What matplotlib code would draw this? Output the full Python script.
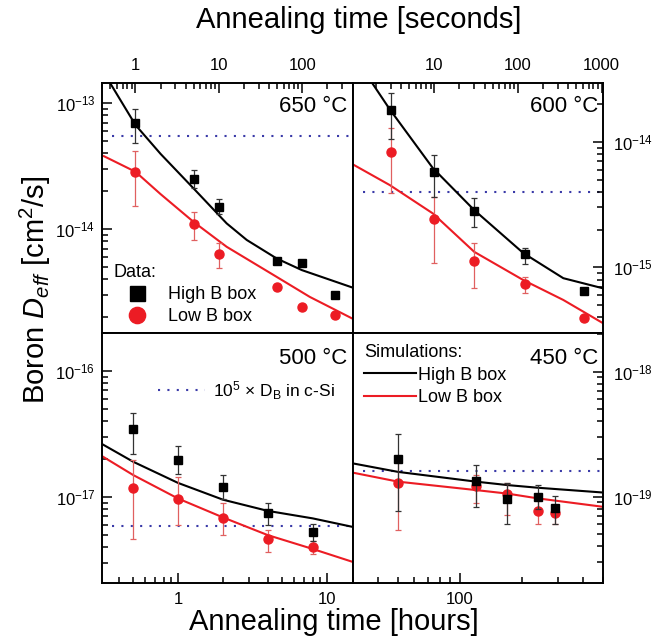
import numpy as np
import matplotlib
matplotlib.use("Agg")
import matplotlib.pyplot as plt
from matplotlib.ticker import LogLocator, NullFormatter, FuncFormatter

plt.rcParams["font.family"] = ["Liberation Sans", "DejaVu Sans"]
plt.rcParams["mathtext.fontset"] = "custom"
plt.rcParams["mathtext.rm"] = "Liberation Sans"
plt.rcParams["mathtext.it"] = "Liberation Sans:italic"
plt.rcParams["mathtext.bf"] = "Liberation Sans:bold"

# ---------------------------------------------------------
# Data
# ---------------------------------------------------------
# 650 C (seconds)
t650 = [1, 5, 10, 50, 100, 250]
high650 = [7.0e-14, 2.52e-14, 1.5e-14, 5.6e-15, 5.35e-15, 3.0e-15]
high650_lo = [4.8e-14, 2.1e-14, 1.33e-14, 5.4e-15, 5.35e-15, 3.0e-15]
high650_hi = [8.95e-14, 2.95e-14, 1.72e-14, 5.8e-15, 5.35e-15, 3.0e-15]
low650 = [2.85e-14, 1.09e-14, 6.3e-15, 3.5e-15, 2.4e-15, 2.07e-15]
low650_lo = [1.52e-14, 8.2e-15, 4.9e-15, 3.3e-15, 2.4e-15, 2.07e-15]
low650_hi = [4.2e-14, 1.36e-14, 7.8e-15, 3.7e-15, 2.4e-15, 2.07e-15]
sim650_t_high = [0.5, 1.0, 2.0, 4.98, 12.4, 21.6, 49.3, 98.9, 400]
sim650_high = [1.43e-13, 6.7e-14, 3.95e-14, 2.1e-14, 1.11e-14, 8.2e-15, 5.85e-15, 4.73e-15, 3.44e-15]
sim650_t_low = [0.418, 1.0, 1.99, 4.98, 12.4, 49.3, 123, 400]
sim650_low = [3.79e-14, 2.85e-14, 1.9e-14, 1.14e-14, 7.24e-15, 4.18e-15, 2.9e-15, 1.95e-15]

# 600 C (seconds)
t600 = [3, 10, 30, 120, 620]
high600 = [1.81e-14, 5.77e-15, 2.82e-15, 1.28e-15, 6.5e-16]
high600_lo = [1.06e-14, 3.65e-15, 2.08e-15, 1.07e-15, 6.5e-16]
high600_hi = [2.45e-14, 7.8e-15, 3.55e-15, 1.43e-15, 6.5e-16]
low600 = [8.3e-15, 2.43e-15, 1.13e-15, 7.36e-16, 3.93e-16]
low600_lo = [3.9e-15, 1.09e-15, 6.8e-16, 6.2e-16, 3.93e-16]
low600_hi = [1.28e-14, 3.65e-15, 1.57e-15, 8.4e-16, 3.93e-16]
sim600_t_high = [1.77, 2.94, 9.6, 30, 116, 349, 1050]
sim600_high = [3.0e-14, 1.81e-14, 6.18e-15, 2.86e-15, 1.3e-15, 8.2e-16, 6.8e-16]
sim600_t_low = [1.05, 2.94, 9.6, 30, 116, 349, 1050]
sim600_low = [6.64e-15, 4.52e-15, 2.69e-15, 1.33e-15, 7.92e-16, 5.5e-16, 3.58e-16]

# 500 C (hours)
t500 = [0.5, 1, 2, 4, 8]
high500 = [3.43e-17, 1.98e-17, 1.19e-17, 7.46e-18, 5.27e-18]
high500_lo = [2.18e-17, 1.51e-17, 9.55e-18, 6.0e-18, 4.5e-18]
high500_hi = [4.6e-17, 2.55e-17, 1.48e-17, 9.0e-18, 6.1e-18]
low500 = [1.18e-17, 9.7e-18, 6.8e-18, 4.64e-18, 3.98e-18]
low500_lo = [4.6e-18, 6.0e-18, 4.97e-18, 3.65e-18, 3.5e-18]
low500_hi = [1.95e-17, 1.44e-17, 9.0e-18, 5.5e-18, 4.5e-18]
sim500_t = [0.31, 0.5, 1, 2, 4, 8, 14.8]
sim500_high = [2.62e-17, 1.9e-17, 1.29e-17, 9.5e-18, 7.74e-18, 6.75e-18, 5.78e-18]
sim500_low = [2.1e-17, 1.49e-17, 9.7e-18, 6.87e-18, 4.97e-18, 3.86e-18, 3.05e-18]

# 450 C (hours)
t450 = [50, 120, 170, 240, 290]
high450 = [1.99e-19, 1.34e-19, 9.6e-20, 9.9e-20, 8.2e-20]
high450_lo = [7.7e-20, 8.3e-20, 6.06e-20, 7.97e-20, 6.06e-20]
high450_hi = [3.16e-19, 1.8e-19, 1.28e-19, 1.23e-19, 1.02e-19]
low450 = [1.28e-19, 1.22e-19, 1.05e-19, 7.7e-20, 7.36e-20]
low450_lo = [5.37e-20, 8.9e-20, 7.1e-20, 6.1e-20, 6.06e-20]
low450_hi = [2.03e-19, 1.49e-19, 1.28e-19, 9.4e-20, 8.6e-20]
sim450_t = [30, 50, 120, 170, 240, 500]
sim450_high = [1.85e-19, 1.58e-19, 1.32e-19, 1.24e-19, 1.18e-19, 1.08e-19]
sim450_low = [1.56e-19, 1.32e-19, 1.13e-19, 1.06e-19, 9.7e-20, 8.3e-20]

# 10^5 x D_B in c-Si
db_level = [5.47e-14, 4.0e-15, 5.9e-18, 1.61e-19]

panel_labels = ["650 °C", "600 °C", "500 °C", "450 °C"]

RED = "#ec1c24"
RED_ERR = "#e06060"
BLUE = "#3a3aa8"

# ---------------------------------------------------------
# Layout (four panels sharing edges)
# ---------------------------------------------------------
W, H = 664, 636
fig = plt.figure(figsize=(W / 100, H / 100), dpi=100)
xl, xm, xr = 102.3 / W, 352.5 / W, 603.3 / W
yt, ym, yb = 1 - 82.7 / H, 1 - 333.0 / H, 1 - 583.3 / H

ax_tl = fig.add_axes([xl, ym, xm - xl, yt - ym])
ax_tr = fig.add_axes([xm, ym, xr - xm, yt - ym])
ax_bl = fig.add_axes([xl, yb, xm - xl, ym - yb])
ax_br = fig.add_axes([xm, yb, xr - xm, ym - yb])

xlims = [(0.4, 400), (1.05, 1050), (0.31, 14.8), (30, 500)]
ylims = [(1.5e-15, 1.45e-13), (3.0e-16, 2.96e-14), (2.06e-18, 2.0e-16), (2.03e-20, 2.04e-18)]


def draw_panel(ax, t, hi, hi_lo, hi_hi, lo, lo_lo, lo_hi):
    hi = np.array(hi)
    lo = np.array(lo)
    e1 = ax.errorbar(t, hi, yerr=[hi - np.array(hi_lo), np.array(hi_hi) - hi],
                     fmt="s", color="black", ecolor="#333333", elinewidth=0.9,
                     capsize=2, capthick=0.9, ms=6, zorder=4)
    e2 = ax.errorbar(t, lo, yerr=[lo - np.array(lo_lo), np.array(lo_hi) - lo],
                     fmt="o", color=RED, ecolor=RED_ERR, elinewidth=0.9,
                     capsize=2, capthick=0.9, ms=6.5, zorder=3)
    return e1, e2


eh, el = draw_panel(ax_tl, t650, high650, high650_lo, high650_hi, low650, low650_lo, low650_hi)
ax_tl.plot(sim650_t_high, sim650_high, color="black", lw=1.5, zorder=2)
ax_tl.plot(sim650_t_low, sim650_low, color=RED, lw=1.5, zorder=2)

draw_panel(ax_tr, t600, high600, high600_lo, high600_hi, low600, low600_lo, low600_hi)
ax_tr.plot(sim600_t_high, sim600_high, color="black", lw=1.5, zorder=2)
ax_tr.plot(sim600_t_low, sim600_low, color=RED, lw=1.5, zorder=2)

draw_panel(ax_bl, t500, high500, high500_lo, high500_hi, low500, low500_lo, low500_hi)
ax_bl.plot(sim500_t, sim500_high, color="black", lw=1.5, zorder=2)
ax_bl.plot(sim500_t, sim500_low, color=RED, lw=1.5, zorder=2)

draw_panel(ax_br, t450, high450, high450_lo, high450_hi, low450, low450_lo, low450_hi)
sh, = ax_br.plot(sim450_t, sim450_high, color="black", lw=1.5, zorder=2)
sl, = ax_br.plot(sim450_t, sim450_low, color=RED, lw=1.5, zorder=2)

axes = [ax_tl, ax_tr, ax_bl, ax_br]
dotted = []
for ax, lvl in zip(axes, db_level):
    d = ax.axhline(lvl, xmin=0.04, xmax=1, color=BLUE, lw=1.5,
                   ls=(0, (1, 3.5)), zorder=1)
    dotted.append(d)

plain = FuncFormatter(lambda v, pos: f"{v:g}")

for i, ax in enumerate(axes):
    ax.set_xscale("log")
    ax.set_yscale("log")
    ax.set_xlim(*xlims[i])
    ax.set_ylim(*ylims[i])
    for s in ax.spines.values():
        s.set_linewidth(1.4)
    ax.yaxis.set_major_locator(LogLocator(base=10))
    ax.yaxis.set_minor_locator(LogLocator(base=10, subs=np.arange(2, 10)))
    ax.yaxis.set_minor_formatter(NullFormatter())
    ax.xaxis.set_major_locator(LogLocator(base=10))
    ax.xaxis.set_major_formatter(plain)
    ax.xaxis.set_minor_locator(LogLocator(base=10, subs=np.arange(2, 10)))
    ax.xaxis.set_minor_formatter(NullFormatter())
    ax.tick_params(which="both", direction="in", labelsize=12, width=1.1)
    ax.tick_params(which="major", length=7)
    ax.tick_params(which="minor", length=4)
    ax.text(0.98, 0.905 if i < 2 else 0.898, panel_labels[i], transform=ax.transAxes,
            ha="right", va="center", fontsize=16)

# x ticks: top row on top, bottom row on bottom
for ax in (ax_tl, ax_tr):
    ax.tick_params(axis="x", which="both", top=True, bottom=False,
                   labeltop=True, labelbottom=False, pad=7)
for ax in (ax_bl, ax_br):
    ax.tick_params(axis="x", which="both", top=False, bottom=True,
                   labeltop=False, labelbottom=True, pad=6)

# y ticks: left column on left, right column on right
for ax in (ax_tl, ax_bl):
    ax.tick_params(axis="y", which="both", left=True, right=False,
                   labelleft=True, labelright=False, pad=5)
for ax in (ax_tr, ax_br):
    ax.tick_params(axis="y", which="both", left=False, right=True,
                   labelleft=False, labelright=True, pad=7)

# ---------------------------------------------------------
# Legends
# ---------------------------------------------------------
ax_tl.legend([eh[0], el[0]], ["High B box", "Low B box"], title="Data:",
             alignment="left", frameon=False, loc="lower left",
             bbox_to_anchor=(0.045, 0.03), fontsize=13, title_fontsize=13,
             markerscale=1.8, handlelength=2.6, handletextpad=0.4,
             labelspacing=0.3, borderpad=0, borderaxespad=0)

ax_bl.legend([dotted[2]], [r"$\mathregular{10^5}$ × D$_\mathregular{B}$ in c-Si"],
             frameon=False, loc="center left", bbox_to_anchor=(0.222, 0.77),
             fontsize=12.5, handlelength=2.7, handletextpad=0.5,
             borderpad=0, borderaxespad=0)

ax_br.legend([sh, sl], ["High B box", "Low B box"], title="Simulations:",
             alignment="left", frameon=False, loc="upper left",
             bbox_to_anchor=(0.045, 0.955), fontsize=13, title_fontsize=13,
             handlelength=2.9, handletextpad=0.1, labelspacing=0.3,
             borderpad=0, borderaxespad=0)

# ---------------------------------------------------------
# Axis titles
# ---------------------------------------------------------
fig.text(0.541, 0.968, "Annealing time [seconds]", ha="center", va="center", fontsize=21)
fig.text(0.503, 0.022, "Annealing time [hours]", ha="center", va="center", fontsize=21)
fig.text(0.053, 0.544, r"Boron $\mathit{D_{eff}}$ [cm$^\mathregular{2}$/s]",
         rotation=90, ha="center", va="center", fontsize=21)

fig.savefig("out.png", dpi=100)
